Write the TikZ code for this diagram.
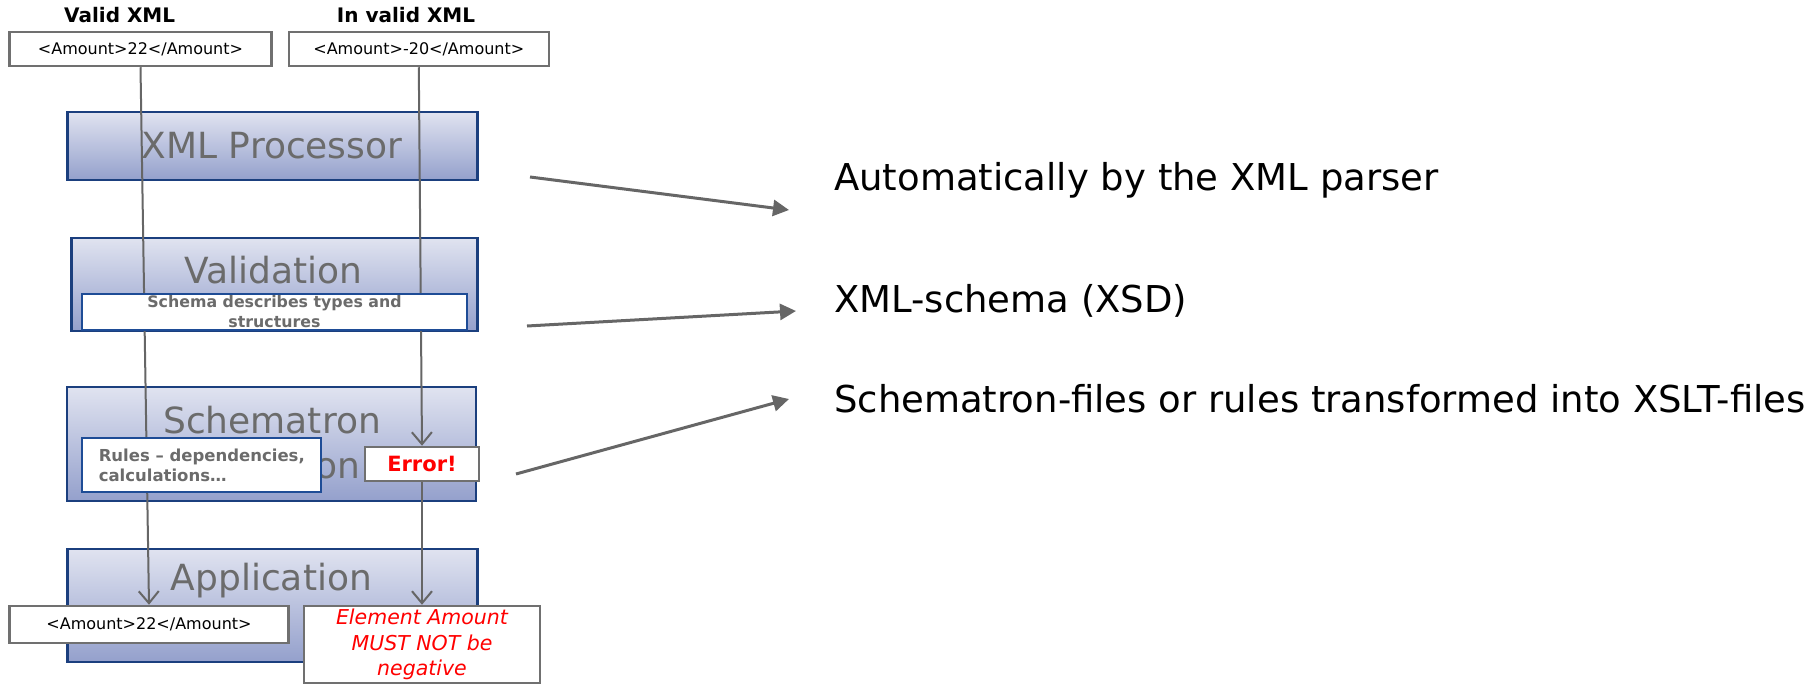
\documentclass[tikz,border=0pt]{standalone}
\usepackage{fontspec}
\setmainfont{DejaVu Sans}
\usetikzlibrary{arrows.meta}
\definecolor{boxblue}{HTML}{1B3F7E}
\definecolor{linegray}{HTML}{666666}
\definecolor{txtgray}{HTML}{6B6B6B}
\definecolor{gtop}{HTML}{E0E3F0}
\definecolor{gbot}{HTML}{94A0CC}
\definecolor{wbblue}{HTML}{1E4C96}
\definecolor{xmlgray}{HTML}{707070}
\definecolor{errred}{HTML}{FF0000}
\pgfdeclarelayer{bg}
\pgfdeclarelayer{mid}
\pgfsetlayers{bg,mid,main}
\tikzset{
  stage/.style={draw=boxblue, line width=2.5pt, top color=gtop, bottom color=gbot, inner sep=0pt},
  stagetxt/.style={text=txtgray, font=\fontsize{36}{45}\selectfont, align=center, inner sep=0pt},
  xmlbox/.style={draw=xmlgray, line width=2.5pt, fill=white, font=\fontsize{16}{19}\selectfont, inner sep=0pt},
  notebox/.style={draw=wbblue, line width=2pt, fill=white, text=txtgray, font=\bfseries\fontsize{15.8}{20}\selectfont, inner sep=0pt},
  title/.style={font=\bfseries\fontsize{20}{24}\selectfont, inner sep=0pt},
  flow/.style={draw=linegray, line width=2pt},
  flowarrow/.style={flow, -{Straight Barb[length=12pt,width=20pt,line width=2pt]}},
  hint/.style={draw=linegray, line width=3pt, -{Triangle[length=16pt,width=16pt]}},
  righttxt/.style={font=\fontsize{37}{43}\selectfont, anchor=base west, inner sep=0pt},
}
\begin{document}
\begin{tikzpicture}[x=1pt,y=-1pt]
\useasboundingbox (0,0) rectangle (1815,685);
% titles
\node[title] (t1) at (119.6,15) {Valid XML};
\node[title] (t2) at (406,15) {In valid XML};
% input boxes
\node[xmlbox, minimum width=262pt, minimum height=34pt] (in1) at (140.5,49) {<Amount>22</Amount>};
\node[xmlbox, minimum width=260pt, minimum height=34pt] (in2) at (418.8,49) {<Amount>-20</Amount>};
% stage boxes
\begin{pgfonlayer}{bg}
\node[stage, minimum width=410pt, minimum height=68pt] (proc) at (272.3,146) {};
\node[stage, minimum width=406pt, minimum height=93pt] (val) at (274.5,284.5) {};
\node[stage, minimum width=409pt, minimum height=114pt] (sch) at (271.6,444) {};
\node[stage, minimum width=410pt, minimum height=113pt] (app) at (272.7,605.5) {};
\node[stagetxt] (proct) at (272,146) {XML Processor};
\node[stagetxt] (valt) at (273.6,270) {Validation};
\node[stagetxt] (scht) at (272,443) {Schematron\\validation};
\node[stagetxt] (appt) at (271.4,581) {Application};
\end{pgfonlayer}
% white notes
\node[notebox, minimum width=384.6pt, minimum height=36pt, align=center] (schema) at (274.5,312) {Schema describes types and\\structures};
\node[notebox, minimum width=239.3pt, minimum height=54pt, align=left, font=\bfseries\fontsize{16.5}{20}\selectfont] (rules) at (201.8,465) {Rules -- dependencies,\\calculations\dots};
\node[xmlbox, minimum width=113.6pt, minimum height=34pt, text=errred, font=\bfseries\fontsize{21}{25}\selectfont] (err) at (422,464) {Error!};
% outputs
\node[xmlbox, minimum width=279pt, minimum height=37pt] (out1) at (149,624.5) {<Amount>22</Amount>};
\node[xmlbox, minimum width=235.7pt, minimum height=77pt, text=errred, align=center, font=\itshape\fontsize{20.5}{25.5}\selectfont] (out2) at (422,644.5) {Element Amount\\MUST NOT be\\negative};
% flow lines
\begin{pgfonlayer}{mid}
\draw[flowarrow] (in1.south) -- (out1.north);
\draw[flowarrow] (in2.south) -- (err.north);
\draw[flowarrow] (err.south) -- (out2.north);
\end{pgfonlayer}
% right-hand explanations
\node[righttxt] (r1) at (834,190) {Automatically by the XML parser};
\node[righttxt] (r2) at (834,312) {XML-schema (XSD)};
\node[righttxt] (r3) at (834,412) {Schematron-files or rules transformed into XSLT-files};
\coordinate (a1s) at (530,177);
\coordinate (a1e) at (789,210);
\coordinate (a2s) at (527,326);
\coordinate (a2e) at (796,311);
\coordinate (a3s) at (516,474);
\coordinate (a3e) at (789,399);
\draw[hint] (a1s) -- (a1e);
\draw[hint] (a2s) -- (a2e);
\draw[hint] (a3s) -- (a3e);
\end{tikzpicture}
\end{document}
